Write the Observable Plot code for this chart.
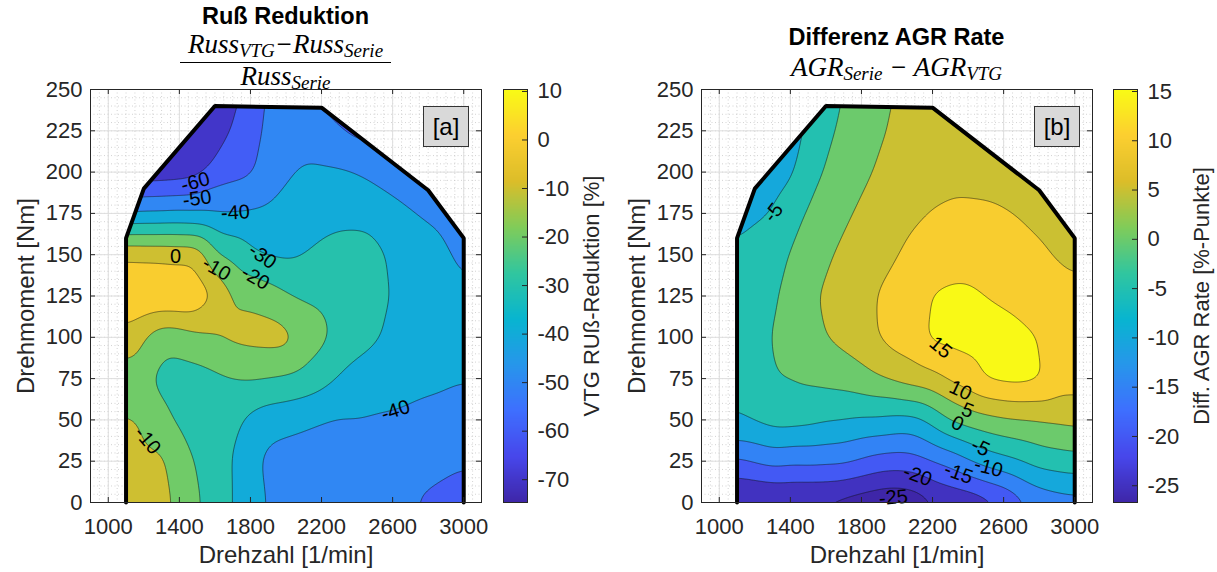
<!DOCTYPE html>
<html>
<head>
<meta charset="utf-8">
<script src="https://cdn.jsdelivr.net/npm/d3@7"></script>
<script src="https://cdn.jsdelivr.net/npm/@observablehq/plot@0.6"></script>
<style>
  body { margin: 0; background: #fff; }
  #chart { position: relative; width: 1217px; height: 572px; overflow: hidden;
           font-family: "Liberation Sans", Arial, sans-serif; color: #262626; }
  #chart svg { position: absolute; top: 0; overflow: visible; }
  .title { position: absolute; text-align: center; font-weight: bold; font-size: 23.5px;
           line-height: 1; color: #000; white-space: nowrap; }
  .math { position: absolute; text-align: center; font-family: "Liberation Serif", "DejaVu Serif", serif;
          font-style: italic; font-size: 27px; line-height: 1; color: #000; white-space: nowrap; }
  .math sub { font-size: 19px; line-height: 1; vertical-align: baseline; position: relative; top: 4px; }
  .rule { position: absolute; height: 1px; background: #000; }
  .tag { position: absolute; box-sizing: border-box; width: 46px; height: 41px; border: 1px solid #333;
         background: #d9d9d9; font-size: 24px; line-height: 39px; text-align: center; color: #000; }
</style>
</head>
<body>
<div id="chart">
  <div class="title" style="left:0;width:571px;top:5px">Ruß Reduktion</div>
  <div class="math" style="left:0;width:571px;top:31px">Russ<sub>VTG</sub>−Russ<sub>Serie</sub></div>
  <div class="rule" style="left:180px;width:211px;top:62px"></div>
  <div class="math" style="left:0;width:571px;top:63px">Russ<sub>Serie</sub></div>

  <div class="title" style="left:611px;width:571px;top:26px">Differenz AGR Rate</div>
  <div class="math" style="left:611px;width:571px;top:54px">AGR<sub>Serie</sub> − AGR<sub>VTG</sub></div>
</div>
<script>
// Engine speed [1/min] and torque [Nm] of the map nodes
const speeds = [1100, 1200, 1300, 1400, 1500, 1600, 1700, 1800, 1900, 2000,
                2100, 2200, 2300, 2400, 2500, 2600, 2700, 2800, 2900, 3000];
const torques = [0, 25, 50, 75, 100, 125, 150, 175, 200, 225, 250];

// Soot reduction VTG vs. series [%]; one row per torque level, columns follow speeds
const sootReduction = [
  [-6, -6, -5, -14, -18, -26, -29.5, -36, -41, -43, -44, -45, -45.5, -46, -46.5, -47, -49.5, -51, -53, -55],
  [-7, -8, -7, -17, -20, -27, -29.5, -36, -43, -44, -45, -46, -47, -47, -47.5, -48, -48.5, -48, -48, -49],
  [-9, -10.5, -17, -22, -24, -27, -27, -32, -36, -37, -38, -39.5, -40.5, -40, -41, -41, -42, -43, -43, -44],
  [-16, -16, -24, -25, -25, -22, -20, -19, -20, -21, -23, -26, -31, -33, -34, -36, -37, -38, -39, -39.5],
  [-3, -9, -17, -16, -12, -10, -8, -7, -6, -6, -14, -17, -24, -27, -29, -32, -35, -36, -37, -38],
  [10, 10, 9.5, 9, 8.5, -1, -11, -12, -15, -19, -21, -22, -24, -25, -26, -31, -34, -35, -36.5, -39],
  [-1.5, -2, -2, -3, -2, -20, -22, -28, -31, -32, -30, -28, -27, -27, -27, -32, -35, -37, -39, -42],
  [-40, -39, -39, -38, -39, -40, -40, -39, -39, -37, -35, -33, -32, -32, -33, -37, -39.5, -41, -42, -45],
  [-68, -66, -66, -65, -63, -56, -53, -52, -45, -41, -39, -39, -39, -40, -43, -44, -45, -46, -47, -49],
  [-72, -74, -72, -71, -70, -67, -58, -55, -47, -44, -43, -46, -49, -53, -52, -52, -52, -52, -53, -54],
  [-75, -75, -75, -74, -74, -72, -62, -58, -48, -46, -46, -54, -56, -58, -60, -60, -60, -60, -60, -60]
];

// EGR rate difference series minus VTG [%-points]; one row per torque level
const egrDifference = [
  [-26, -26, -26, -26, -26, -26, -27, -28, -29, -29.5, -28.5, -25.3, -24.5, -24, -22, -20, -16, -13.5, -12.5, -12],
  [-16, -14.5, -13, -14, -13.5, -14, -14, -15.5, -17, -17.5, -17, -15, -13.5, -10.5, -8, -6.5, -5, -3, -2.5, -1.8],
  [-4.8, -4.5, -3, -3, -3.5, -4.5, -4.8, -5.5, -5.5, -6.5, -6.5, -3.5, 0.5, 2.3, 3.5, 4.5, 5, 5.3, 5.8, 6.5],
  [-5.3, -3, -0.3, 0, 0.8, 1.5, 2, 3.5, 4.8, 6.2, 7.5, 8.5, 11, 12.5, 15.8, 16.5, 16.8, 15.8, 12.5, 12.5],
  [-5.5, -2.5, 0.3, 2.5, 3, 5, 6.5, 7.5, 10.2, 12.5, 12.8, 16.3, 16.5, 17, 17, 16.8, 16, 15, 13, 12.3],
  [-5.1, -2.8, -1, 2, 3.5, 6, 7.5, 8.5, 10.2, 12, 13.5, 15.3, 15.8, 15.8, 15, 14.3, 13.5, 12.3, 11.5, 10.8],
  [-4.6, -3.5, -2.5, 0.4, 2.5, 4, 6.3, 7.5, 8.5, 9.8, 11.5, 12.5, 13.3, 13.5, 12.8, 12.3, 11.5, 10.6, 9.7, 9.2],
  [-5.8, -5.5, -5, -2.5, 0.8, 2, 4, 6, 7, 8, 9.3, 10.2, 10.5, 10.6, 10.5, 10.3, 9.7, 9, 8.5, 8.3],
  [-7.5, -7.5, -7, -6, -2, 0.5, 2.5, 3.8, 5.8, 7, 8, 8.7, 9.2, 9, 9, 8.5, 8.3, 8, 7.5, 7.3],
  [-9, -9, -8.5, -8, -3.5, -1.5, 1.5, 2.5, 4.2, 6.2, 7, 7.8, 8.3, 8, 8, 7.5, 7.3, 7, 6.8, 6.6],
  [-10, -10, -9.5, -9, -5, -3, 0.5, 1.5, 3, 5.5, 6.5, 7, 7.5, 7, 7, 6.5, 6.5, 6.5, 6.3, 6]
];

// Full-load curve enclosing the operating range
const fullLoadSpeed = [1100, 1100, 1200, 1600, 2200, 2800, 3000, 3000];
const fullLoadTorque = [0, 160, 190, 240, 239, 189, 160, 0];

// Contour levels
const sootLevels = [-80, -70, -60, -50, -40, -30, -20, -10, 0];
const egrLevels = [-35, -25, -20, -15, -10, -5, 0, 5, 10, 15];

// Axis and colorbar ticks
const speedTicks = [1000, 1400, 1800, 2200, 2600, 3000];
const torqueTicks = [0, 25, 50, 75, 100, 125, 150, 175, 200, 225, 250];
const sootBarTicks = [-70, -60, -50, -40, -30, -20, -10, 0, 10];
const egrBarTicks = [-25, -20, -15, -10, -5, 0, 5, 10, 15];
const sootBarDomain = [-74.7, 10.4];
const egrBarDomain = [-26.7, 15.2];

// Inline contour labels
const sootLabelLevel = [-60, -50, -40, -30, -20, -10, 0, -10, -40];
const sootLabelSpeed = [1490, 1500, 1715, 1868, 1828, 1609, 1378, 1221, 2616];
const sootLabelTorque = [194, 184, 175.5, 149, 136, 141.5, 149, 37.5, 55.7];
const sootLabelAngle = [-15, -8, -3, 35, 30, 30, 0, 50, -18];

const egrLabelLevel = [-5, 15, 10, 5, 0, -5, -10, -15, -20, -25];
const egrLabelSpeed = [1305, 2245, 2357, 2397, 2340, 2470, 2515, 2346, 2115, 1980];
const egrLabelTorque = [175.5, 93.8, 67.8, 55.7, 47.8, 33.3, 21.2, 17.6, 16.3, 3];
const egrLabelAngle = [-52, 40, 25, 22, 25, 25, 15, 20, 20, -5];

// Parula-style color ramp
const parulaStops = ["#3e26a8", "#4747eb", "#3e6fff", "#2796eb", "#08b5d0",
                     "#31c69f", "#81cc59", "#dcbd29", "#fccf30", "#f9fb15"];
const parula = d3.piecewise(d3.interpolateRgb, parulaStops);

const FONT = "'Liberation Sans', Arial, sans-serif";
const fullLoad = fullLoadSpeed.map((s, i) => ({speed: s, torque: fullLoadTorque[i]}));

function mapSamples(grid) {
  const out = [];
  torques.forEach((t, i) => speeds.forEach((s, j) => out.push({speed: s, torque: t, value: grid[i][j]})));
  return out;
}

function labelRows(level, speed, torque, angle) {
  return level.map((v, i) => ({text: String(v), speed: speed[i], torque: torque[i], angle: angle[i]}));
}

function colorScale(domain) {
  return {type: "linear", domain, interpolate: parula, clamp: true};
}

function mapPanel({grid, levels, barDomain, labels, clipId}) {
  const plot = Plot.plot({
    width: 610, height: 572,
    marginTop: 89, marginBottom: 70, marginLeft: 90, marginRight: 129,
    style: {fontFamily: FONT, fontSize: "22px", color: "#262626", background: "none"},
    x: {domain: [900, 3100]},
    y: {domain: [0, 250]},
    color: colorScale(barDomain),
    marks: [
      Plot.ruleX(d3.range(900, 3101, 50), {stroke: "#c8c8c8", strokeWidth: 0.8, strokeDasharray: "1,2.5"}),
      Plot.ruleY(d3.range(0, 251, 5), {stroke: "#c8c8c8", strokeWidth: 0.8, strokeDasharray: "1,2.5"}),
      Plot.ruleX(speedTicks, {stroke: "#dedede", strokeWidth: 1}),
      Plot.ruleY(torqueTicks, {stroke: "#dedede", strokeWidth: 1}),
      Plot.contour(mapSamples(grid), {
        x: "speed", y: "torque", fill: "value",
        interpolate: "barycentric", thresholds: levels, blur: 8,
        x1: 1100, x2: 3000, y1: 0, y2: 250, pixelSize: 1,
        stroke: "#111", strokeWidth: 0.6, strokeOpacity: 0.85
      }),
      Plot.line(fullLoad, {x: "speed", y: "torque", stroke: "#000", strokeWidth: 4, strokeLinejoin: "miter"}),
      Plot.text(labels, {x: "speed", y: "torque", text: "text", rotate: "angle", fontSize: 20, fill: "#000"}),
      Plot.frame({stroke: "#262626", strokeWidth: 1}),
      Plot.tickX(speedTicks, {stroke: "#262626", insetTop: 408}),
      Plot.tickX(speedTicks, {stroke: "#262626", insetBottom: 408}),
      Plot.tickY(torqueTicks, {stroke: "#262626", insetRight: 386}),
      Plot.tickY(torqueTicks, {stroke: "#262626", insetLeft: 386}),
      Plot.axisX({ticks: speedTicks, tickSize: 0, tickPadding: 16, tickFormat: String, label: null, fontSize: 22}),
      Plot.axisY({ticks: torqueTicks, tickSize: 0, tickPadding: 8, tickFormat: String, label: null, fontSize: 22}),
      Plot.text(["Drehzahl [1/min]"], {frameAnchor: "bottom", dy: 60, textAnchor: "middle", fontSize: 24}),
      Plot.text(["Drehmoment [Nm]"], {frameAnchor: "left", dx: -64, rotate: -90, textAnchor: "middle", fontSize: 24})
    ]
  });
  // clip the filled map to the full-load curve
  const sx = plot.scale("x"), sy = plot.scale("y");
  const pts = fullLoad.map(d => [sx.apply(d.speed), sy.apply(d.torque)]);
  const ns = "http://www.w3.org/2000/svg";
  const defs = document.createElementNS(ns, "defs");
  const clip = document.createElementNS(ns, "clipPath");
  clip.setAttribute("id", clipId);
  const path = document.createElementNS(ns, "path");
  path.setAttribute("d", "M" + pts.join("L") + "Z");
  clip.appendChild(path);
  defs.appendChild(clip);
  plot.insertBefore(defs, plot.firstChild);
  const g = plot.querySelector('g[aria-label="contour"]');
  if (g) g.setAttribute("clip-path", `url(#${clipId})`);
  return plot;
}

function colorbarPanel({domain, ticks, label}) {
  return Plot.plot({
    width: 104, height: 572,
    marginTop: 89, marginBottom: 70, marginLeft: 0, marginRight: 80,
    style: {fontFamily: FONT, fontSize: "22px", color: "#262626", background: "none"},
    x: {domain: [0, 1], axis: null},
    y: {domain, axis: null},
    color: colorScale(domain),
    marks: [
      Plot.raster({x1: 0, x2: 1, y1: domain[0], y2: domain[1], width: 1, height: 400, fill: (x, y) => y}),
      Plot.frame({stroke: "#262626", strokeWidth: 1}),
      Plot.tickY(ticks, {stroke: "#262626", insetLeft: 19}),
      Plot.axisY({anchor: "right", ticks, tickSize: 0, tickPadding: 10, tickFormat: String, label: null, fontSize: 22}),
      Plot.text([label], {frameAnchor: "right", dx: 64, rotate: -90, textAnchor: "middle", fontSize: 22})
    ]
  });
}

const chart = document.getElementById("chart");

function place(el, left) {
  el.style.left = left + "px";
  chart.appendChild(el);
}

place(mapPanel({
  grid: sootReduction, levels: sootLevels, barDomain: sootBarDomain,
  labels: labelRows(sootLabelLevel, sootLabelSpeed, sootLabelTorque, sootLabelAngle), clipId: "clip-soot"
}), 0);
place(colorbarPanel({domain: sootBarDomain, ticks: sootBarTicks, label: "VTG RUß-Reduktion [%]"}), 503);

place(mapPanel({
  grid: egrDifference, levels: egrLevels, barDomain: egrBarDomain,
  labels: labelRows(egrLabelLevel, egrLabelSpeed, egrLabelTorque, egrLabelAngle), clipId: "clip-egr"
}), 611);
place(colorbarPanel({domain: egrBarDomain, ticks: egrBarTicks, label: "Diff. AGR Rate [%-Punkte]"}), 1113);

// panel tags
[["[a]", 423], ["[b]", 1034]].forEach(([t, x]) => {
  const d = document.createElement("div");
  d.className = "tag";
  d.style.left = x + "px";
  d.style.top = "106px";
  d.textContent = t;
  chart.appendChild(d);
});
</script>
</body>
</html>
